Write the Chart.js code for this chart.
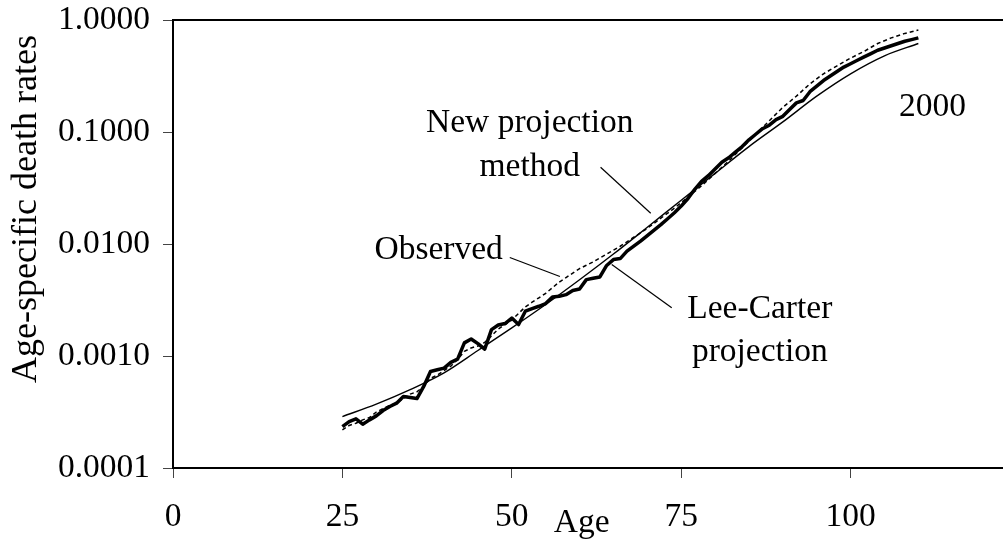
<!DOCTYPE html>
<html>
<head>
<meta charset="utf-8">
<title>Age-specific death rates, 2000</title>
<script src="https://cdn.jsdelivr.net/npm/chart.js@4.4.1/dist/chart.umd.min.js"></script>
<style>
  html, body { margin: 0; padding: 0; background: #fff; overflow: hidden; }
  #wrap { position: absolute; left: 0; top: 0; width: 1030px; height: 546px; }
</style>
</head>
<body>
<div id="wrap"><canvas id="deathChart" width="1030" height="546"></canvas></div>
<script>
// Lee-Carter projection (thick jagged line), single years of age
const leeCarterAges = [
  25, 26, 27, 28, 29, 30, 31, 32, 33, 34, 35, 36, 37, 38, 39, 40, 41, 42, 43, 44,
  45, 46, 47, 48, 49, 50, 51, 52, 53, 54, 55, 56, 57, 58, 59, 60, 61, 62, 63, 64,
  65, 66, 67, 68, 69, 70, 71, 72, 73, 74, 75, 76, 77, 78, 79, 80, 81, 82, 83, 84,
  85, 86, 87, 88, 89, 90, 91, 92, 93, 94, 95, 96, 97, 98, 99, 100, 101, 102, 103, 104,
  105, 106, 107, 108, 109, 110
];
const leeCarterRates = [
  0.000234, 0.000260, 0.000275, 0.000246, 0.000269, 0.000292, 0.000326, 0.000354, 0.000379, 0.000435,
  0.000426, 0.000417, 0.000535, 0.000728, 0.000753, 0.000780, 0.000877, 0.000938, 0.00131, 0.00142,
  0.00129, 0.00115, 0.00172, 0.00189, 0.00195, 0.00218, 0.00191, 0.00251, 0.00265, 0.00278,
  0.00294, 0.00337, 0.00341, 0.00353, 0.00384, 0.00397, 0.00481, 0.00494, 0.00508, 0.00643,
  0.00726, 0.00741, 0.00863, 0.00957, 0.0106, 0.0119, 0.0133, 0.0149, 0.0168, 0.0190,
  0.0218, 0.0255, 0.0308, 0.0363, 0.0407, 0.0468, 0.0537, 0.0589, 0.0661, 0.0741,
  0.0851, 0.0955, 0.107, 0.115, 0.129, 0.138, 0.159, 0.182, 0.191, 0.229,
  0.257, 0.288, 0.316, 0.347, 0.380, 0.407, 0.437, 0.468, 0.501, 0.537,
  0.562, 0.589, 0.617, 0.646, 0.668, 0.692
];

// New projection method (thin smooth line)
const newMethodAges = [25, 30, 35, 40, 45, 50, 55, 60, 65, 70, 75, 80, 85, 90, 95, 100, 105, 110];
const newMethodRates = [
  0.000288, 0.000372, 0.000501, 0.000708, 0.00112, 0.00178, 0.00288, 0.00479, 0.00813,
  0.0141, 0.0246, 0.0427, 0.0741, 0.123, 0.209, 0.331, 0.479, 0.617
];

// Observed (dotted line)
const observedAges = [
  25, 26, 27, 28, 29, 30, 31, 32, 33, 34, 35, 36, 37, 38, 39, 40, 41, 42, 43, 44,
  45, 46, 47, 48, 49, 50, 51, 52, 53, 54, 55, 56, 57, 58, 59, 60, 61, 62, 64, 66,
  68, 70, 72, 74, 76, 78, 80, 82, 84, 86, 88, 90, 92, 94, 96, 98, 100, 102, 104, 106,
  108, 110
];
const observedRates = [
  0.000219, 0.000240, 0.000251, 0.000269, 0.000282, 0.000316, 0.000339, 0.000363, 0.000380, 0.000417,
  0.000457, 0.000479, 0.000537, 0.000631, 0.000676, 0.000741, 0.000813, 0.000933, 0.00110, 0.00118,
  0.00123, 0.00132, 0.00151, 0.00174, 0.00191, 0.00209, 0.00240, 0.00275, 0.00302, 0.00331,
  0.00363, 0.00407, 0.00457, 0.00501, 0.00550, 0.00603, 0.00646, 0.00692, 0.00813, 0.00955,
  0.0115, 0.0138, 0.0170, 0.0209, 0.0263, 0.0331, 0.0427, 0.0550, 0.0724, 0.0955,
  0.126, 0.166, 0.209, 0.269, 0.331, 0.389, 0.457, 0.525, 0.617, 0.692,
  0.759, 0.813
];

const xTicks = [0, 25, 50, 75, 100];
const yTicks = [0.0001, 0.001, 0.01, 0.1, 1];

// labels placed on the plot, in data coordinates (age, rate)
const noteTexts = [
  { text: 'New projection', age: 52.65, rate: 0.0995 },
  { text: 'method', age: 52.65, rate: 0.0402 },
  { text: 'Observed', age: 39.2, rate: 0.00742 },
  { text: 'Lee-Carter', age: 86.6, rate: 0.00220 },
  { text: 'projection', age: 86.6, rate: 0.000907 },
  { text: '2000', age: 112.1, rate: 0.138 }
];
const leaderLines = [
  { from: [63.1, 0.0484], to: [70.5, 0.0188] },
  { from: [49.7, 0.00757], to: [57.1, 0.00512] },
  { from: [64.75, 0.00656], to: [73.6, 0.00270] }
];

const FONT_FAMILY = "'Liberation Serif', 'Times New Roman', serif";
const FONT_SIZE = 33.5;

function toPoints(ages, rates) {
    return ages.map((age, i) => ({ x: age, y: rates[i] }));
}

// drop the label overhang padding so the plot box sits where the layout puts it
function fixPadding(scale) {
    scale.paddingTop = 0;
    scale.paddingBottom = 0;
    scale.paddingLeft = 0;
    scale.paddingRight = 0;
}

const annotationPlugin = {
    id: 'annotations',
    afterDraw(chart) {
        const { ctx, chartArea, scales } = chart;
        const xs = scales.x;
        const ys = scales.y;
        ctx.save();

        // top frame line
        ctx.strokeStyle = '#000';
        ctx.lineWidth = 2;
        ctx.beginPath();
        ctx.moveTo(chartArea.left - 1, chartArea.top);
        ctx.lineTo(chartArea.right, chartArea.top);
        ctx.stroke();

        // leader lines
        ctx.lineWidth = 1.2;
        leaderLines.forEach(l => {
            ctx.beginPath();
            ctx.moveTo(xs.getPixelForValue(l.from[0]), ys.getPixelForValue(l.from[1]));
            ctx.lineTo(xs.getPixelForValue(l.to[0]), ys.getPixelForValue(l.to[1]));
            ctx.stroke();
        });

        // note texts (baseline at the given point)
        ctx.fillStyle = '#000';
        ctx.font = `${FONT_SIZE}px ${FONT_FAMILY}`;
        ctx.textAlign = 'center';
        ctx.textBaseline = 'alphabetic';
        noteTexts.forEach(n => {
            ctx.fillText(n.text, xs.getPixelForValue(n.age), ys.getPixelForValue(n.rate));
        });

        // x axis title, on the tick label row
        ctx.fillText('Age', xs.getPixelForValue(60.3), chartArea.bottom + 64);

        // y axis title
        ctx.font = `36px ${FONT_FAMILY}`;
        ctx.translate(27, (chartArea.top + chartArea.bottom) / 2 - 35);
        ctx.rotate(-Math.PI / 2);
        ctx.textBaseline = 'middle';
        ctx.fillText('Age-specific death rates', 0, 0);
        ctx.restore();
    }
};

const ctx = document.getElementById('deathChart').getContext('2d');
new Chart(ctx, {
    type: 'line',
    data: {
        datasets: [
            {
                label: 'Observed',
                data: toPoints(observedAges, observedRates),
                borderColor: '#000',
                borderWidth: 1.5,
                borderDash: [4, 3],
                pointRadius: 0,
                tension: 0,
            },
            {
                label: 'New projection method',
                data: toPoints(newMethodAges, newMethodRates),
                borderColor: '#000',
                borderWidth: 1.4,
                pointRadius: 0,
                cubicInterpolationMode: 'monotone',
            },
            {
                label: 'Lee-Carter projection',
                data: toPoints(leeCarterAges, leeCarterRates),
                borderColor: '#000',
                borderWidth: 3.5,
                pointRadius: 0,
                tension: 0,
                borderJoinStyle: 'round',
            },
        ],
    },
    options: {
        responsive: false,
        animation: false,
        devicePixelRatio: 1,
        layout: { padding: { left: 0, top: 20, right: 10, bottom: 0 } },
        plugins: {
            legend: { display: false },
            tooltip: { enabled: false },
        },
        scales: {
            x: {
                type: 'linear',
                min: 0,
                max: 125,
                afterBuildTicks: (scale) => { scale.ticks = xTicks.map(v => ({ value: v })); },
                afterFit: (scale) => { scale.height = 78; fixPadding(scale); },
                ticks: {
                    color: '#000',
                    font: { family: FONT_FAMILY, size: FONT_SIZE },
                    padding: 19,
                    maxRotation: 0,
                    autoSkip: false,
                    callback: (value) => String(value),
                },
                grid: { drawOnChartArea: false, drawTicks: true, tickLength: 10, color: '#444', lineWidth: 1 },
                border: { display: true, color: '#000', width: 2 },
            },
            y: {
                type: 'logarithmic',
                min: 0.0001,
                max: 1,
                afterBuildTicks: (scale) => { scale.ticks = yTicks.map(v => ({ value: v })); },
                afterFit: (scale) => { scale.width = 173; fixPadding(scale); },
                ticks: {
                    color: '#000',
                    font: { family: FONT_FAMILY, size: FONT_SIZE, lineHeight: 1.0 },
                    padding: 13,
                    callback: (value) => Number(value).toFixed(4),
                },
                grid: { drawOnChartArea: false, drawTicks: true, tickLength: 10, color: '#444', lineWidth: 1 },
                border: { display: true, color: '#000', width: 2 },
            },
        },
    },
    plugins: [annotationPlugin],
});
</script>
</body>
</html>
